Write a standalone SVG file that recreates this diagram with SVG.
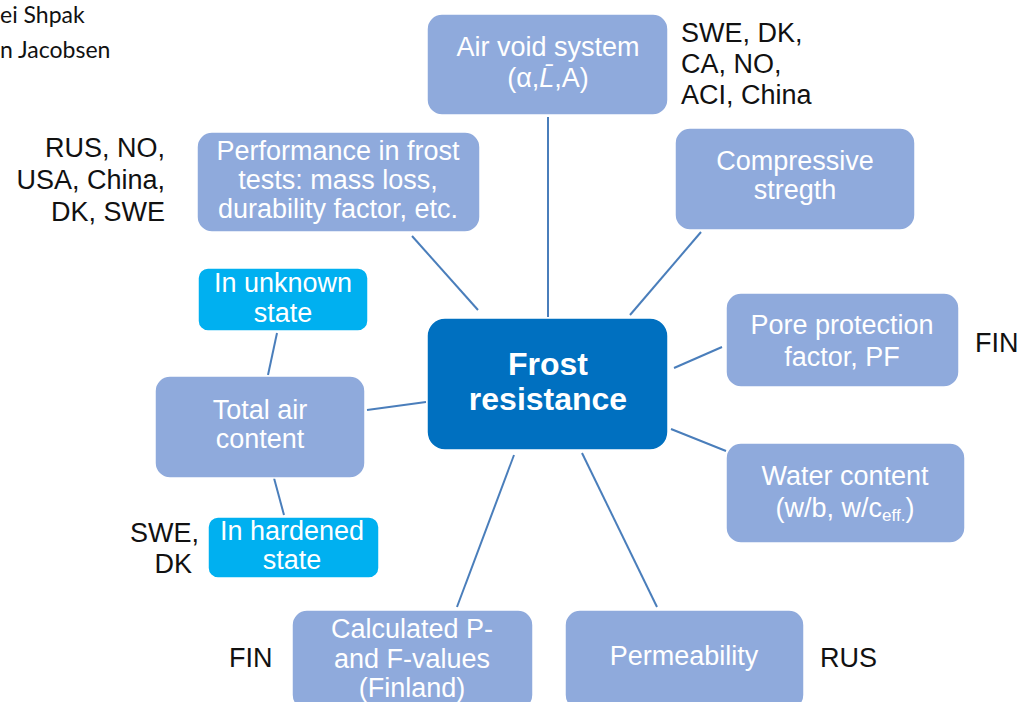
<svg xmlns="http://www.w3.org/2000/svg" width="1019" height="702" viewBox="0 0 1019 702">
<style>
.n{fill:#8FAADC;stroke:#ffffff;stroke-width:1.5}
.c{fill:#00B0F0;stroke:#ffffff;stroke-width:1.5}
.m{fill:#0070C0;stroke:#ffffff;stroke-width:1.5}
.t{font-family:"Liberation Sans",Arial,sans-serif;font-size:27px;fill:#ffffff;text-anchor:middle}
.b{font-family:"Liberation Sans",Arial,sans-serif;font-size:32px;font-weight:bold;fill:#ffffff;text-anchor:middle}
.l{font-family:"Liberation Sans",Arial,sans-serif;font-size:27px;fill:#111111}
.r{text-anchor:end}
.a{font-family:Lato,"Open Sans",sans-serif;font-size:23px;fill:#111111}
#edges line{stroke:#4A7EBB;stroke-width:2}
</style>
<rect width="1019" height="702" fill="#ffffff"/>
<text class="a" x="0" y="23">ei Shpak</text>
<text class="a" x="0" y="58">n Jacobsen</text>
<g id="edges">
<line x1="548" y1="117" x2="548" y2="317"/>
<line x1="412" y1="236" x2="478" y2="310"/>
<line x1="701" y1="232" x2="630" y2="315"/>
<line x1="722" y1="347" x2="674" y2="368"/>
<line x1="671" y1="429" x2="726" y2="451"/>
<line x1="582" y1="453" x2="657" y2="607"/>
<line x1="514" y1="455" x2="457" y2="607"/>
<line x1="367" y1="410" x2="426" y2="402"/>
<line x1="277" y1="333" x2="268" y2="375"/>
<line x1="274" y1="478" x2="284" y2="515"/>
</g>
<g id="center">
<rect class="m" x="427" y="318" width="241" height="132" rx="18"/>
<text class="b" x="548" y="375">Frost</text>
<text class="b" x="548" y="410">resistance</text>
</g>
<g id="airvoid">
<rect class="n" x="427" y="14" width="241" height="101" rx="15"/>
<text class="t" x="548" y="56">Air void system</text>
<text class="t" x="548" y="87">(α,<tspan font-style="italic">L̄</tspan>,A)</text>
</g>
<g id="airvoid-label">
<text class="l" x="681" y="42">SWE, DK,</text>
<text class="l" x="681" y="73">CA, NO,</text>
<text class="l" x="681" y="104">ACI, China</text>
</g>
<g id="performance">
<rect class="n" x="197" y="132" width="283" height="100" rx="15"/>
<text class="t" x="338" y="160">Performance in frost</text>
<text class="t" x="338" y="189">tests: mass loss,</text>
<text class="t" x="338" y="218">durability factor, etc.</text>
</g>
<g id="performance-label">
<text class="l r" x="165" y="157">RUS, NO,</text>
<text class="l r" x="165" y="189">USA, China,</text>
<text class="l r" x="165" y="221">DK, SWE</text>
</g>
<g id="compressive">
<rect class="n" x="675" y="128" width="240" height="102" rx="15"/>
<text class="t" x="795" y="170">Compressive</text>
<text class="t" x="795" y="199">stregth</text>
</g>
<g id="unknown">
<rect class="c" x="198" y="268" width="170" height="63" rx="10"/>
<text class="t" x="283" y="292">In unknown</text>
<text class="t" x="283" y="322">state</text>
</g>
<g id="total">
<rect class="n" x="155" y="376" width="210" height="102" rx="15"/>
<text class="t" x="260" y="419">Total air</text>
<text class="t" x="260" y="448">content</text>
</g>
<g id="hardened">
<rect class="c" x="208" y="517" width="171" height="61" rx="10"/>
<text class="t" x="292" y="540">In hardened</text>
<text class="t" x="292" y="569">state</text>
</g>
<g id="hardened-label">
<text class="l r" x="199" y="542">SWE,</text>
<text class="l r" x="192" y="573">DK</text>
</g>
<g id="pore">
<rect class="n" x="726" y="293" width="233" height="94" rx="15"/>
<text class="t" x="842" y="334">Pore protection</text>
<text class="t" x="842" y="366">factor, PF</text>
</g>
<g id="pore-label">
<text class="l" x="975" y="352">FIN</text>
</g>
<g id="water">
<rect class="n" x="726" y="443" width="239" height="100" rx="15"/>
<text class="t" x="845" y="485">Water content</text>
<text class="t" x="845" y="517">(w/b, w/c<tspan font-size="17" baseline-shift="-4">eff.</tspan>)</text>
</g>
<g id="calculated">
<rect class="n" x="292" y="610" width="241" height="100" rx="15"/>
<text class="t" x="412" y="638">Calculated P-</text>
<text class="t" x="412" y="668">and F-values</text>
<text class="t" x="412" y="697">(Finland)</text>
</g>
<g id="calculated-label">
<text class="l" x="229" y="667">FIN</text>
</g>
<g id="permeability">
<rect class="n" x="565" y="610" width="239" height="100" rx="15"/>
<text class="t" x="684" y="665">Permeability</text>
</g>
<g id="permeability-label">
<text class="l" x="820" y="667">RUS</text>
</g>
</svg>
